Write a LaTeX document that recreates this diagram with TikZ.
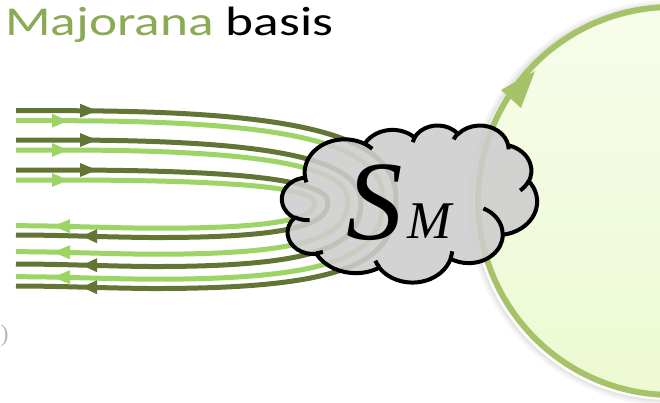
\documentclass[tikz,border=0pt]{standalone}
\usepackage{fontspec}
\usepackage{graphicx}
\newfontfamily\titlefont{Carlito}
\newfontfamily\smfont{Liberation Serif}
\definecolor{titlegreen}{HTML}{8BAA54}
\definecolor{dline}{HTML}{637535}
\definecolor{lline}{HTML}{9DD466}
\definecolor{ccol}{HTML}{A6C369}
\definecolor{ctop}{HTML}{F6FDEA}
\definecolor{cbot}{HTML}{EDF9D2}
\definecolor{cloudgray}{HTML}{CDCDCD}
\tikzset{
  oarc/.style n args={4}{x radius=#1, y radius=#2,
    start angle={atan2(#1*sin(#3),#2*cos(#3))},
    delta angle={Mod(atan2(#1*sin(#3+#4),#2*cos(#3+#4))-atan2(#1*sin(#3),#2*cos(#3)),360)}},
  uline/.style={draw=#1, line width=5pt},
  cloudst/.style={draw=black, line width=4pt, line join=round, fill=cloudgray, fill opacity=0.88},
  cloudin/.style={draw=black, line width=4pt},
  circst/.style={draw=ccol, line width=6pt, top color=ctop, bottom color=cbot}
}
\begin{document}
\begin{tikzpicture}[x=1pt,y=1pt,yscale=-1]
\useasboundingbox (0,0) rectangle (660,402);

% U-shaped lines
\foreach \yt/\yb/\xr/\col in {110.7/286/396/dline, 120.7/276.7/383/lline, 140/264/361/dline, 150/251.7/348/lline, 170/235/328/dline, 180/225.7/315/lline}{
  \pgfmathsetmacro\ym{(\yt+\yb)/2}
  \pgfmathsetmacro\kk{\yt+0.3*(\ym-\yt)}
  \pgfmathsetmacro\qq{\ym+0.7*(\yb-\ym)}
  \draw[uline=\col] (16,\yt) -- (60,\yt) .. controls ({\xr-90},\yt) and (\xr,\kk) .. (\xr,\ym)
     .. controls (\xr,\qq) and ({\xr-40},{\yb+3}) .. (150,{\yb+2.5})
     .. controls (100,{\yb+2}) and (60,\yb) .. (16,\yb);
}
% arrowheads
\foreach \y in {110.7,140,170}{\fill[dline] (97,\y) -- (80,{\y-7}) -- (80,{\y+7}) -- cycle;}
\foreach \y in {120.7,150,180}{\fill[lline] (68,\y) -- (52,{\y-7}) -- (52,{\y+7}) -- cycle;}
\foreach \y in {225.7,251.7,276.7}{\fill[lline] (53,{\y+0.5}) -- (70,{\y+0.5-7}) -- (70,{\y+0.5+7}) -- cycle;}
\foreach \y in {235,264,286}{\fill[dline] (82,{\y+1.2}) -- (97,{\y+1.2-7}) -- (97,{\y+1.2+7}) -- cycle;}

% circle with soft shadow
\foreach \r/\o in {198/0.10, 200/0.06, 202/0.03}{\draw[black, opacity=\o, line width=2pt] (670,203) circle (\r);}
\path[circst] (672,201) circle (194);
\fill[ccol] (535,71) -- (521,108) -- (501,90) -- cycle;

% cloud
\begin{scope}[shift={(282,125)}, xscale=0.5903, yscale=0.3634]
\path[cloudst] (39.00,143.70)
 arc[oarc={67.53}{91.90}{-190.4875}{123.7805}]
 arc[oarc={53.33}{72.67}{-144.1024}{89.9452}]
 arc[oarc={43.65}{59.45}{-145.8079}{99.7230}]
 arc[oarc={48.57}{65.95}{-130.9861}{117.2417}]
 arc[oarc={53.33}{72.73}{-78.7089}{109.0269}]
 arc[oarc={67.75}{92.20}{-46.2673}{130.2690}]
 arc[oarc={57.85}{78.67}{0.6250}{114.0333}]
 arc[oarc={67.52}{92.15}{22.4516}{115.1726}]
 arc[oarc={77.20}{105.43}{66.2426}{75.7110}]
 arc[oarc={43.60}{59.18}{-274.9421}{146.7356}]
 arc[oarc={43.45}{59.45}{-246.8285}{152.5189}]
 -- cycle;
\draw[cloudin]
 (46.93,261.77) arc[oarc={43.45}{59.45}{86.7420}{26.4295}]
 (69.28,348.99) arc[oarc={43.60}{59.18}{73.6105}{11.4475}]
 (164.78,390.90) arc[oarc={67.52}{92.15}{137.6242}{14.0811}]
 (288.27,347.51) arc[oarc={67.52}{92.15}{6.4533}{15.9984}]
 (341.29,229.54) arc[oarc={57.85}{78.67}{-70.2924}{70.9174}]
 (417.98,153.54) arc[oarc={53.33}{72.73}{30.3180}{27.7515}]
 (383.24,54.26) arc[oarc={48.57}{65.95}{-13.7443}{14.8589}]
 (290.78,39.52) arc[oarc={48.57}{65.95}{-149.1815}{18.1954}]
 (221.41,47.20) arc[oarc={43.65}{59.45}{-163.4943}{17.6864}]
 (140.00,51.92) arc[oarc={67.53}{91.90}{-66.7070}{12.3194}]
 (41.27,157.89) arc[oarc={67.53}{91.90}{157.6544}{11.8582}];
\end{scope}

% labels
\node[anchor=base west, inner sep=0pt] (S) at (346,239) {\smfont\itshape\fontsize{113}{113}\selectfont S};
\node[anchor=base west, inner sep=0pt] (M) at (407,238) {\smfont\itshape\fontsize{53}{53}\selectfont M};
\node[anchor=base west, inner sep=0pt] (title) at (5,35) {\scalebox{1.30}[1]{\titlefont\fontsize{41}{41}\selectfont\textcolor{titlegreen}{Majorana} basis}};
\node[anchor=base west, inner sep=0pt, text=gray!55] (paren) at (0.5,341) {\smfont\fontsize{24}{24}\selectfont )};
\end{tikzpicture}
\end{document}
